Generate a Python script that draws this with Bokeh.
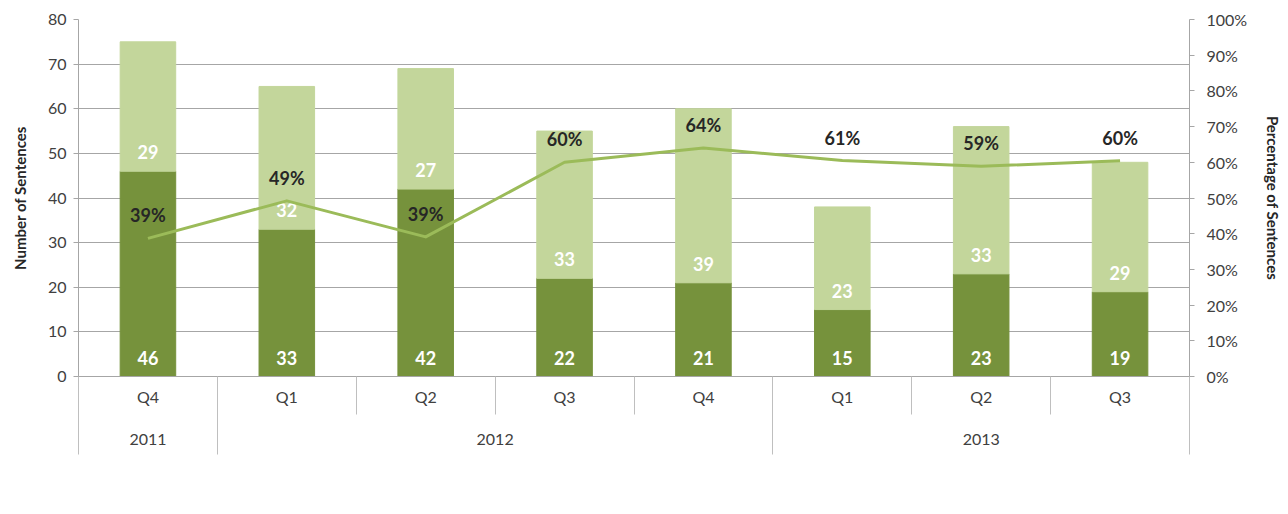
import math
from bokeh.plotting import figure
from bokeh.models import (Range1d, LinearAxis, FixedTicker, NumeralTickFormatter,
                          CustomJSTickFormatter, Legend, LegendItem, ColumnDataSource)
from bokeh.core.properties import value
from bokeh.embed import file_html
from bokeh.resources import INLINE

# ---- data ----
years = ["2011", "2012", "2012", "2012", "2012", "2013", "2013", "2013"]
quarters = ["Q4", "Q1", "Q2", "Q3", "Q4", "Q1", "Q2", "Q3"]
jail_only = [46, 33, 42, 22, 21, 15, 23, 19]
split_sentence = [29, 32, 27, 33, 39, 23, 33, 29]
pct_split = [0.387, 0.492, 0.391, 0.600, 0.640, 0.605, 0.589, 0.604]
pct_labels = ["39%", "49%", "39%", "60%", "64%", "61%", "59%", "60%"]
left_ticks = [0, 10, 20, 30, 40, 50, 60, 70, 80]
right_ticks = [0.0, 0.1, 0.2, 0.3, 0.4, 0.5, 0.6, 0.7, 0.8, 0.9, 1.0]

DARK = "#76923C"
LIGHT = "#C3D69B"
LINE = "#9BBB59"
GRID = "#a6a6a6"
SEP = "#bfbfbf"
TXT = "#404040"
FONT = "Lato"

n = len(quarters)
xs = [i + 0.5 for i in range(n)]
bounds_all = list(range(n + 1))
year_names, year_centers, year_bounds = [], [], [0]
start = 0
for i in range(1, n + 1):
    if i == n or years[i] != years[i - 1]:
        year_names.append(years[start])
        year_centers.append((start + i) / 2)
        year_bounds.append(i)
        start = i

src = ColumnDataSource(dict(
    x=xs, jail=jail_only, split=split_sentence,
    pct=pct_split, pct_label=pct_labels,
    jail_txt=[str(v) for v in jail_only],
    split_txt=[str(v) for v in split_sentence],
    zero=[0] * n,
))

p = figure(frame_width=1111, frame_height=357, x_range=Range1d(0, n), y_range=Range1d(0, 80),
           output_backend="svg", toolbar_location=None, x_axis_location=None,
           min_border_left=78, min_border_right=95, min_border_top=19, min_border_bottom=136)
p.outline_line_color = None
p.xgrid.visible = False
p.ygrid.ticker = FixedTicker(ticks=left_ticks)
p.ygrid.grid_line_color = GRID

ax = p.yaxis[0]
ax.ticker = FixedTicker(ticks=left_ticks)
ax.axis_line_color = GRID
ax.major_tick_line_color = GRID
ax.major_tick_out = 5
ax.major_tick_in = 0
ax.minor_tick_line_color = None
ax.major_label_text_font = FONT
ax.major_label_text_font_size = "16px"
ax.major_label_text_color = TXT
ax.major_label_standoff = 7
ax.axis_label = "Number of Sentences"
ax.axis_label_text_font = FONT
ax.axis_label_text_font_size = "15px"
ax.axis_label_text_font_style = "bold"
ax.axis_label_text_color = "#262626"
ax.axis_label_standoff = 16

p.extra_y_ranges = {"pct": Range1d(0.0, 1.0)}
rax = LinearAxis(y_range_name="pct", ticker=FixedTicker(ticks=right_ticks),
                 formatter=NumeralTickFormatter(format="0%"))
rax.axis_line_color = GRID
rax.major_tick_line_color = GRID
rax.major_tick_out = 5
rax.major_tick_in = 0
rax.minor_tick_line_color = None
rax.major_label_text_font = FONT
rax.major_label_text_font_size = "16px"
rax.major_label_text_color = TXT
rax.major_label_standoff = 12
rax.axis_label = "Percentage of Sentences"
rax.axis_label_text_font = FONT
rax.axis_label_text_font_size = "15px"
rax.axis_label_text_font_style = "bold"
rax.axis_label_text_color = "#262626"
rax.axis_label_standoff = 14
p.add_layout(rax, "right")

# category axis, level 1: quarters (minor ticks = category boundaries)
qax = LinearAxis(ticker=FixedTicker(ticks=xs, minor_ticks=bounds_all),
                 formatter=CustomJSTickFormatter(args=dict(labels=quarters),
                                                 code="return labels[index]"))
qax.axis_line_color = GRID
qax.major_tick_line_color = None
qax.major_tick_out = 0
qax.major_tick_in = 0
qax.minor_tick_line_color = SEP
qax.minor_tick_out = 38
qax.minor_tick_in = 0
try:
    qax.major_label_standoff = -28
except Exception:
    qax.major_label_standoff = 0
qax.major_label_text_font = FONT
qax.major_label_text_font_size = "16px"
qax.major_label_text_color = TXT
p.add_layout(qax, "below")

# category axis, level 2: years (minor ticks = year boundaries)
yax = LinearAxis(ticker=FixedTicker(ticks=year_centers, minor_ticks=year_bounds),
                 formatter=CustomJSTickFormatter(args=dict(labels=year_names),
                                                 code="return labels[index]"))
yax.axis_line_color = None
yax.major_tick_line_color = None
yax.major_tick_out = 0
yax.major_tick_in = 0
yax.minor_tick_line_color = SEP
yax.minor_tick_out = 46
yax.minor_tick_in = 0
try:
    yax.major_label_standoff = -21
except Exception:
    yax.major_label_standoff = 0
yax.major_label_text_font = FONT
yax.major_label_text_font_size = "16px"
yax.major_label_text_color = TXT
p.add_layout(yax, "below")

# bars
bars = p.vbar_stack(["jail", "split"], x="x", width=0.4, color=[DARK, LIGHT], source=src)

p.text(x="x", y="zero", text="jail_txt", source=src, y_offset=-19,
       text_align="center", text_baseline="middle", text_color="white",
       text_font=value(FONT), text_font_size="18px", text_font_style="bold")
p.text(x="x", y="jail", text="split_txt", source=src, y_offset=-19,
       text_align="center", text_baseline="middle", text_color="white",
       text_font=value(FONT), text_font_size="18px", text_font_style="bold")

ln = p.line(x="x", y="pct", source=src, y_range_name="pct", line_color=LINE,
            line_width=3, line_join="round")
p.text(x="x", y="pct", text="pct_label", source=src, y_range_name="pct", y_offset=-23,
       text_align="center", text_baseline="middle", text_color="#262626",
       text_font=value(FONT), text_font_size="18px", text_font_style="bold")

legend = Legend(items=[
    LegendItem(label="Number Sentenced to Jail Only", renderers=[bars[0]]),
    LegendItem(label="Number Sentenced to Split Sentence", renderers=[bars[1]]),
    LegendItem(label="% of 1170h Sentences that were Split Sentences", renderers=[ln]),
], orientation="horizontal", location="top_center")
legend.glyph_width = 34
legend.glyph_height = 11
legend.label_standoff = 10
legend.spacing = 24
legend.padding = 0
legend.margin = 42
legend.border_line_color = None
legend.background_fill_alpha = 0
legend.label_text_font = FONT
legend.label_text_font_size = "19.5px"
legend.label_text_color = "#262626"
p.add_layout(legend, "below")

open("out.html", "w").write(file_html(p, INLINE))
